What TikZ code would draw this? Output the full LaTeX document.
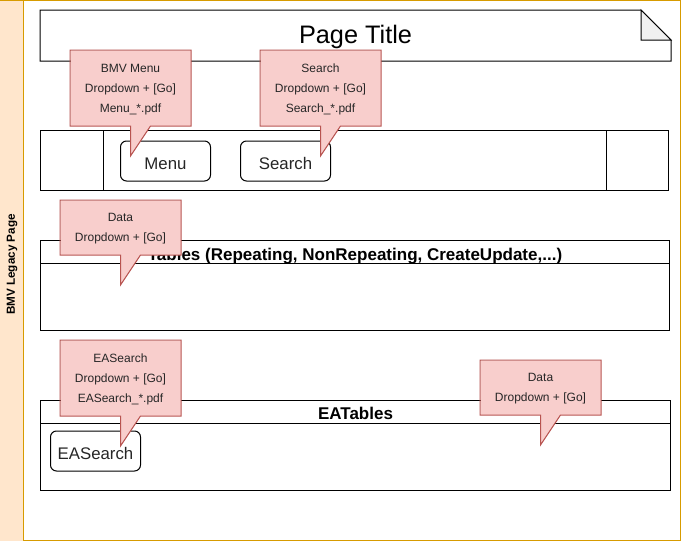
\documentclass[tikz,border=0pt]{standalone}
\usepackage{fontspec}
\setmainfont{Liberation Sans}
\usetikzlibrary{calc}

\definecolor{laneorange}{HTML}{D79B00}
\definecolor{lanefill}{HTML}{FFE6CC}
\definecolor{notefill}{HTML}{F8CECC}
\definecolor{noteline}{HTML}{B85450}
\definecolor{foldgray}{HTML}{F0F0F0}

\tikzset{
	box/.style={draw, line width=1pt, inner sep=0pt},
	btn/.style={box, rounded corners=6pt, minimum width=90pt, minimum height=40pt, text height=16pt, text depth=0pt, font=\fontsize{16.8}{20}\selectfont, text=black!85},
	callbox/.style={fill=notefill, inner sep=0pt, minimum width=120pt, align=center, text depth=-3.5pt, font=\fontsize{12}{20}\selectfont, text=black!85},
	callline/.style={draw=noteline, line width=1pt},
	headtext/.style={text height=15.2pt, text depth=0pt, font=\bfseries\fontsize{17}{20}\selectfont},
}

% outline of a callout with its tail
\newcommand{\calloutedge}[1]{%
	\fill[notefill] (#1.south) -- ($(#1.south)+(0,30)$) -- ($(#1.south)+(20,0)$) -- cycle;
	\draw[callline] (#1.north west) -- (#1.north east) -- (#1.south east) -- ($(#1.south)+(20,0)$) -- ($(#1.south)+(0,30)$) -- (#1.south) -- (#1.south west) -- cycle;}

\begin{document}
\begin{tikzpicture}[x=1pt, y=-1pt, line width=1pt]
		\useasboundingbox (-0.5,-0.5) rectangle (680.5,540.5);
		
		\node[box, draw=laneorange, fill=white, minimum width=680pt, minimum height=540pt] (lane) at (340,270) {};
		\filldraw[fill=lanefill, draw=laneorange] (lane.north west) rectangle ($(lane.south west)+(23,0)$);
		\node[rotate=90, font=\bfseries\fontsize{11.7}{14}\selectfont] (lanelabel) at (11.5,264) {BMV Legacy Page};
		
		\node[inner sep=0pt, minimum width=630pt, minimum height=50pt, text height=18.1pt, text depth=2pt, font=\fontsize{25.3}{30}\selectfont] (title) at (355,35) {Page Title};
		\draw (title.north west) -- ($(title.north east)+(-30,0)$) -- ($(title.north east)+(0,30)$) -- (title.south east) -- (title.south west) -- cycle;
		\filldraw[fill=foldgray] ($(title.north east)+(-30,0)$) -- ($(title.north east)+(-30,30)$) -- ($(title.north east)+(0,30)$) -- cycle;
		
		\node[box, minimum width=628pt, minimum height=60pt] (navbar) at (354,160) {};
		\draw ($(navbar.north west)+(63,0)$) -- ($(navbar.south west)+(63,0)$);
		\draw ($(navbar.north east)+(-63,0)$) -- ($(navbar.south east)+(-63,0)$);
		\node[btn] (menubtn) at (165,160.5) {Menu};
		\node[btn] (searchbtn) at (285,160.5) {Search};
		
		\node[box, minimum width=629pt, minimum height=90pt] (tables) at (354.5,285) {};
		\draw ($(tables.north west)+(0,23)$) -- ($(tables.north east)+(0,23)$);
		\node[headtext] (tablestitle) at ($(tables.north)+(0,12.5)$) {Tables (Repeating, NonRepeating, CreateUpdate,...)};
		
		\node[box, minimum width=630pt, minimum height=90pt] (eatables) at (355,445) {};
		\draw ($(eatables.north west)+(0,23)$) -- ($(eatables.north east)+(0,23)$);
		\node[headtext] (eatitle) at ($(eatables.north)+(0,11.5)$) {EATables};
		\node[btn] (easearchbtn) at (95,450.5) {EASearch};
		
		\node[callbox, minimum height=75pt] (menunote) at (130,87.5) {BMV Menu\\Dropdown + [Go]\\Menu\_*.pdf};
		\calloutedge{menunote}
		\node[callbox, minimum height=75pt] (searchnote) at (320,87.5) {Search\\Dropdown + [Go]\\Search\_*.pdf};
		\calloutedge{searchnote}
		\node[callbox, minimum height=54pt] (datanote) at (120,227) {Data\\Dropdown + [Go]};
		\calloutedge{datanote}
		\node[callbox, minimum height=75pt] (eanote) at (120,377.5) {EASearch\\Dropdown + [Go]\\EASearch\_*.pdf};
		\calloutedge{eanote}
		\node[callbox, minimum height=54pt] (eadatanote) at (540,387) {Data\\Dropdown + [Go]};
		\calloutedge{eadatanote}
	\end{tikzpicture}
\end{document}
